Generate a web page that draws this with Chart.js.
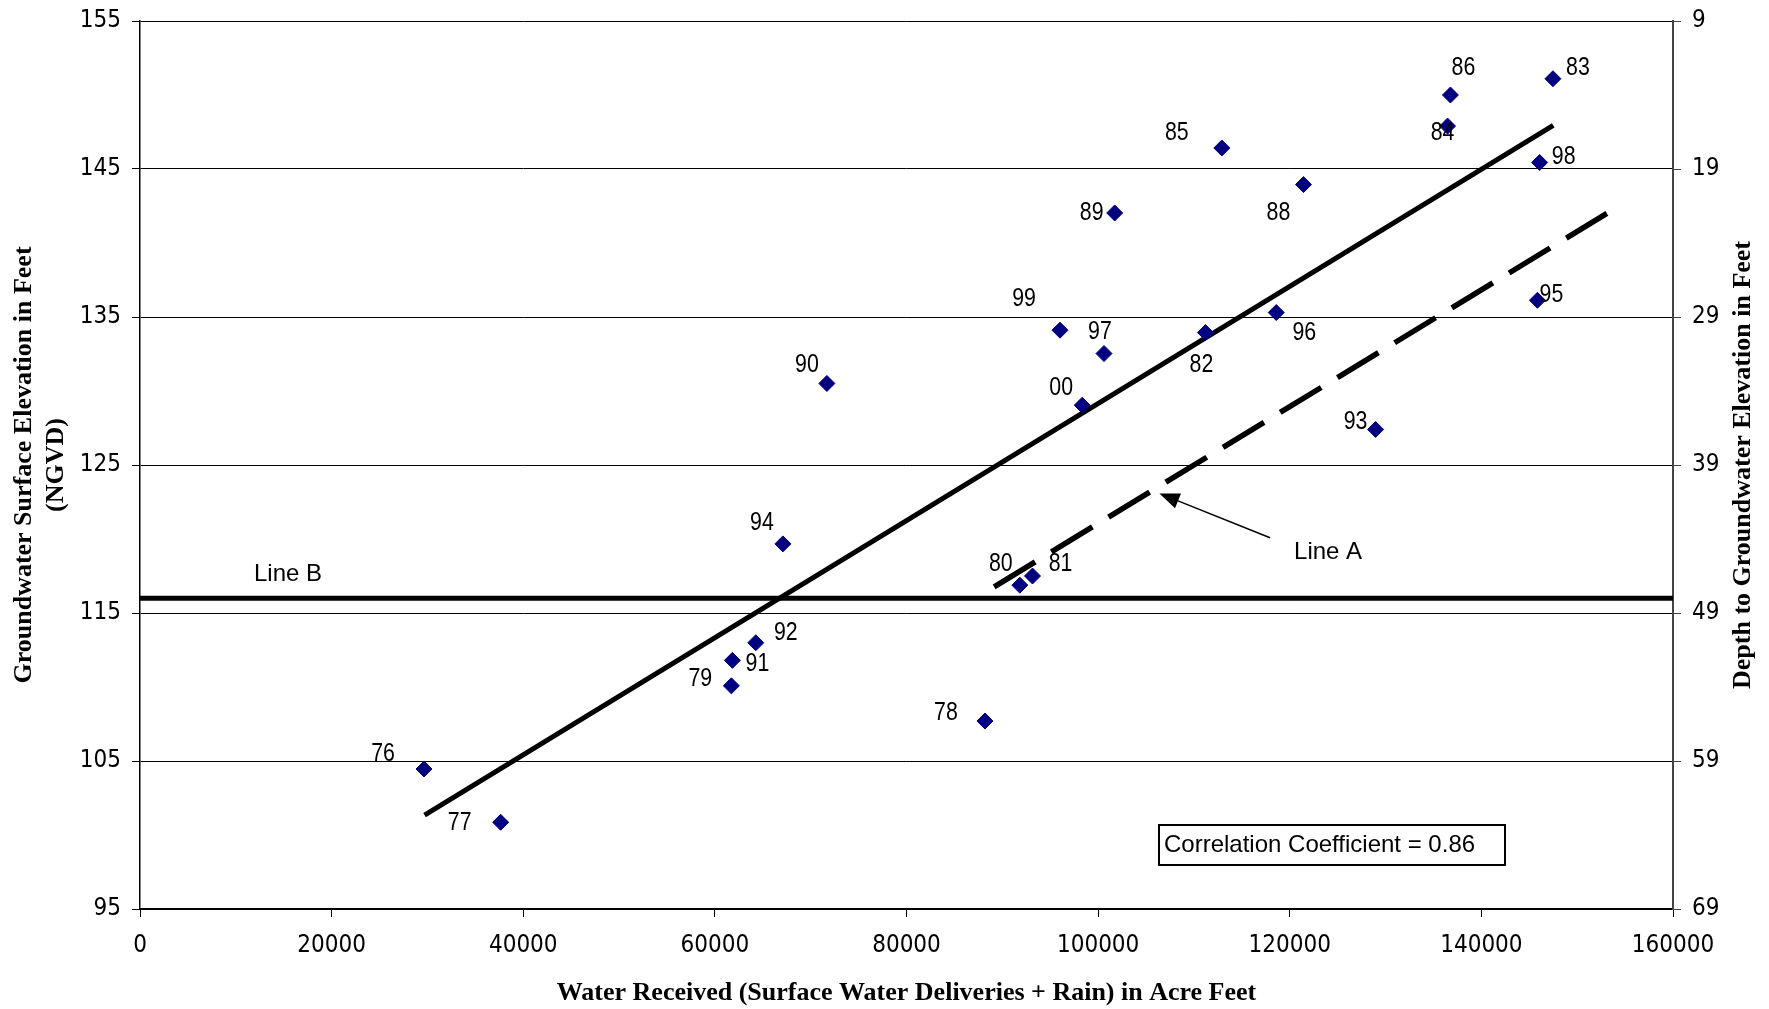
<!DOCTYPE html>
<html>
<head>
<meta charset="utf-8">
<title>Groundwater Elevation vs Water Received</title>
<script src="https://cdn.jsdelivr.net/npm/chart.js@4.4.1/dist/chart.umd.min.js"></script>
<style>
  html, body { margin: 0; padding: 0; background: #fff; }
  #wrap { width: 1769px; height: 1009px; }
</style>
</head>
<body>
<div id="wrap"><canvas id="waterChart"></canvas></div>
<script>
// year of each observation (label drawn next to the marker)
const years = ['76', '77', '78', '79', '80', '81', '82', '83', '84', '85', '86', '88',
               '89', '90', '91', '92', '93', '94', '95', '96', '97', '98', '99', '00'];
// water received in acre feet
const waterReceived = [29640, 37640, 88190, 61720, 91830, 93150, 111200, 147470, 136470, 112910, 136770, 121430,
                       101730, 71690, 61830, 64270, 128960, 67100, 145850, 118590, 100610, 146080, 96020, 98340];
// groundwater surface elevation (NGVD)
const elevation = [104.46, 100.86, 107.7, 110.08, 116.88, 117.5, 133.95, 151.1, 147.9, 146.42, 150.0, 143.95,
                   142.03, 130.51, 111.8, 112.99, 127.4, 119.67, 136.13, 135.3, 132.53, 145.44, 134.11, 129.04];

// fitted line (solid), Line A (dashed) and Line B (horizontal)
const trendX = [29700, 147500];
const trendY = [101.35, 147.95];
const lineAX = [89150, 153100];
const lineAY = [116.77, 142.0];
const lineBX = [0, 160000];
const lineBY = [116.0, 116.0];

// arrow pointing at Line A: tail, head
const arrowX = [117940, 106400];
const arrowY = [120.08, 123.08];

const xTicks = [0, 20000, 40000, 60000, 80000, 100000, 120000, 140000, 160000];
const elevTicks = [95, 105, 115, 125, 135, 145, 155];
const depthTicks = [9, 19, 29, 39, 49, 59, 69];
const correlation = 0.86;

// where each year label sits relative to its marker (px)
const labelOffsets = [[-41, -15], [-41, 1], [-39, -8], [-31, -7], [-19, -21], [28, -12], [-4, 32], [25, -11],
                      [-5, 7], [-45, -15], [13, -27], [-25, 28], [-23, 0], [-20, -19], [25, 3], [30, -10],
                      [-20, -8], [-21, -21], [14, -5], [28, 20], [-4, -22], [24, -6], [-36, -31], [-21, -17]];

const narrow = '"Liberation Sans Narrow", "Arial Narrow", "DejaVu Sans Condensed", sans-serif';
const sans = '"Liberation Sans", Arial, sans-serif';
const serif = '"Liberation Serif", "Times New Roman", serif';

const pts = (xs, ys) => xs.map((v, i) => ({ x: v, y: ys[i] }));

// squeezed text, the original uses a narrow face
function narrowText(ctx, text, x, y) {
    ctx.save();
    ctx.translate(x, y);
    ctx.scale(0.82, 1);
    ctx.fillText(text, 0, 0);
    ctx.restore();
}

// labels, Line A / Line B text, arrow, correlation box and right title
const annotations = {
    id: 'annotations',
    afterDatasetsDraw(chart) {
        const { ctx, chartArea, scales: { x, y } } = chart;
        ctx.save();
        ctx.fillStyle = '#000';
        ctx.strokeStyle = '#000';
        ctx.textAlign = 'center';
        ctx.textBaseline = 'middle';

        ctx.font = '26px ' + sans;
        years.forEach((yr, i) => {
            const [dx, dy] = labelOffsets[i];
            narrowText(ctx, yr, x.getPixelForValue(waterReceived[i]) + dx, y.getPixelForValue(elevation[i]) + dy);
        });

        ctx.font = '24px ' + sans;
        ctx.fillText('Line B', x.getPixelForValue(15450), y.getPixelForValue(117.63));
        ctx.fillText('Line A', x.getPixelForValue(124000), y.getPixelForValue(119.11));

        // arrow
        const x0 = x.getPixelForValue(arrowX[0]), y0 = y.getPixelForValue(arrowY[0]);
        const x1 = x.getPixelForValue(arrowX[1]), y1 = y.getPixelForValue(arrowY[1]);
        const a = Math.atan2(y1 - y0, x1 - x0);
        const c = Math.cos(a), s = Math.sin(a);
        ctx.lineWidth = 1.5;
        ctx.beginPath();
        ctx.moveTo(x0, y0);
        ctx.lineTo(x1 - 16 * c, y1 - 16 * s);
        ctx.stroke();
        ctx.beginPath();
        ctx.moveTo(x1, y1);
        ctx.lineTo(x1 - 20 * c + 8 * s, y1 - 20 * s - 8 * c);
        ctx.lineTo(x1 - 20 * c - 8 * s, y1 - 20 * s + 8 * c);
        ctx.closePath();
        ctx.fill();

        // correlation box
        const bx = chartArea.left + 1019, by = chartArea.top + 804;
        ctx.lineWidth = 2;
        ctx.strokeRect(bx, by, 346, 40);
        ctx.textAlign = 'left';
        ctx.font = '24px ' + sans;
        ctx.fillText('Correlation Coefficient = ' + correlation.toFixed(2), bx + 5, by + 20);

        // right axis title, reading bottom to top
        ctx.translate(chart.width - 26, (chartArea.top + chartArea.bottom) / 2);
        ctx.rotate(-Math.PI / 2);
        ctx.textAlign = 'center';
        ctx.font = 'bold 26px ' + serif;
        ctx.fillText('Depth to Groundwater Elevation in Feet', 0, 0);
        ctx.restore();
    }
};

const tickFont = { family: narrow, size: 24, lineHeight: 1.2 };

const ctx = document.getElementById('waterChart').getContext('2d');

const waterChart = new Chart(ctx, {
    type: 'scatter',
    data: {
        datasets: [
            {
                label: 'Observed',
                data: pts(waterReceived, elevation),
                pointStyle: 'rectRot',
                pointRadius: 8,
                pointBorderWidth: 1,
                backgroundColor: '#000080',
                borderColor: '#000080'
            },
            {
                label: 'Trend',
                data: pts(trendX, trendY),
                showLine: true,
                borderColor: '#000',
                borderWidth: 5,
                pointRadius: 0
            },
            {
                label: 'Line A',
                data: pts(lineAX, lineAY),
                showLine: true,
                borderColor: '#000',
                borderWidth: 5.5,
                borderDash: [48, 19],
                pointRadius: 0
            },
            {
                label: 'Line B',
                data: pts(lineBX, lineBY),
                showLine: true,
                borderColor: '#000',
                borderWidth: 5,
                pointRadius: 0
            }
        ]
    },
    options: {
        responsive: true,
        maintainAspectRatio: false,
        animation: false,
        layout: { padding: { top: 21, right: 0, bottom: 0, left: 0 } },
        plugins: {
            legend: { display: false },
            tooltip: { enabled: false }
        },
        scales: {
            x: {
                type: 'linear',
                min: 0,
                max: 160000,
                afterFit: s => { s.height = 100; s.paddingLeft = 0; s.paddingRight = 0; },
                afterBuildTicks: s => { s.ticks = xTicks.map(v => ({ value: v })); },
                ticks: {
                    color: '#000',
                    padding: 14,
                    maxRotation: 0,
                    font: tickFont,
                    callback: v => String(v)
                },
                grid: { color: '#000', lineWidth: 1, drawOnChartArea: false, tickLength: 8 },
                border: { color: '#000', width: 2 },
                title: {
                    display: true,
                    text: 'Water Received (Surface Water Deliveries + Rain) in Acre Feet',
                    color: '#000',
                    font: { family: serif, size: 26, weight: 'bold', lineHeight: 1.2 },
                    padding: { top: 0, bottom: 0 }
                }
            },
            y: {
                type: 'linear',
                position: 'left',
                min: 95,
                max: 155,
                afterFit: s => { s.width = 140; s.paddingTop = 0; s.paddingBottom = 0; },
                afterBuildTicks: s => { s.ticks = elevTicks.map(v => ({ value: v })); },
                ticks: {
                    color: '#000',
                    padding: 11,
                    font: tickFont,
                    callback: v => String(v)
                },
                grid: { color: '#000', lineWidth: 1, tickLength: 8 },
                border: { color: '#000', width: 1.5 },
                title: {
                    display: true,
                    text: ['Groundwater Surface Elevation in Feet', '(NGVD)'],
                    color: '#000',
                    font: { family: serif, size: 26, weight: 'bold', lineHeight: 1.2 },
                    padding: { top: 9, bottom: 0 }
                }
            },
            y2: {
                type: 'linear',
                position: 'right',
                min: 9,
                max: 69,
                reverse: true,
                afterFit: s => { s.width = 96; s.paddingTop = 0; s.paddingBottom = 0; },
                afterBuildTicks: s => { s.ticks = depthTicks.map(v => ({ value: v })); },
                ticks: {
                    color: '#000',
                    padding: 11,
                    font: tickFont,
                    callback: v => String(v)
                },
                grid: { color: '#444', lineWidth: 1, drawOnChartArea: false, tickLength: 8 },
                border: { color: '#444', width: 2 }
            }
        }
    },
    plugins: [annotations]
});
</script>
</body>
</html>
